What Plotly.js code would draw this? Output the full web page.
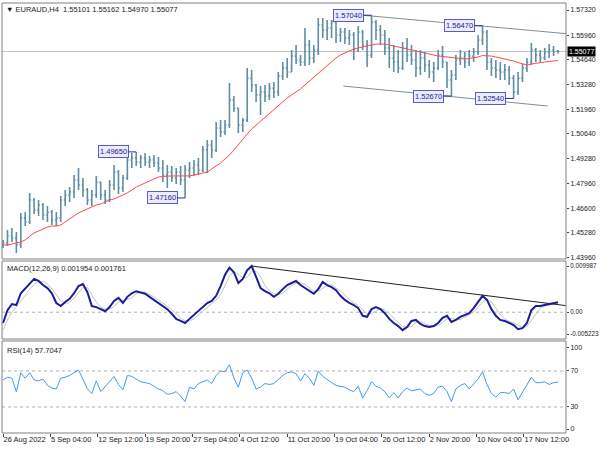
<!DOCTYPE html>
<html><head><meta charset="utf-8">
<script src="https://cdn.plot.ly/plotly-3.0.1.min.js"></script>
<style>html,body{margin:0;padding:0;background:#fff;}#chart{width:600px;height:450px;}</style>
</head><body><div id="chart"></div>
<script>
// Each plotted bar represents 3 consecutive H4 bars
const STEP = 3;

const opens = [
1.4456,1.4473,1.4510,1.4500,1.4462,1.4608,1.4586,1.4705,1.4651,1.4678,
1.4624,1.4640,1.4597,1.4608,1.4705,1.4732,1.4748,1.4813,1.4786,1.4759,
1.4705,1.4732,1.4802,1.4732,1.4705,1.4786,1.4856,1.4770,1.4824,1.4921,
1.4932,1.4910,1.4932,1.4910,1.4921,1.4905,1.4878,1.4840,1.4856,1.4824,
1.4856,1.4813,1.4867,1.4878,1.4894,1.4867,1.4975,1.5002,1.4975,1.5094,
1.5073,1.5110,1.5245,1.5202,1.5110,1.5137,1.5364,1.5327,1.5273,1.5289,
1.5267,1.5310,1.5289,1.5375,1.5418,1.5397,1.5483,1.5462,1.5451,1.5543,
1.5473,1.5516,1.5651,1.5624,1.5635,1.5667,1.5597,1.5613,1.5581,1.5597,
1.5516,1.5613,1.5543,1.5489,1.5667,1.5624,1.5597,1.5527,1.5473,1.5451,
1.5418,1.5527,1.5489,1.5462,1.5418,1.5473,1.5435,1.5397,1.5418,1.5489,
1.5451,1.5354,1.5381,1.5462,1.5473,1.5451,1.5483,1.5505,1.5570,1.5613,
1.5451,1.5418,1.5408,1.5397,1.5408,1.5364,1.5289,1.5364,1.5418,1.5451,
1.5516,1.5489,1.5473,1.5505,1.5516,1.55101];
const highs = [
1.4489,1.4543,1.4554,1.4532,1.4635,1.4640,1.4743,1.4716,1.4705,1.4689,
1.4673,1.4651,1.4640,1.4727,1.4759,1.4775,1.4840,1.4878,1.4824,1.4770,
1.4759,1.4835,1.4802,1.4759,1.4813,1.4894,1.4867,1.4840,1.4948,1.4959,
1.4965,1.4948,1.4959,1.4943,1.4948,1.4937,1.4921,1.4894,1.4889,1.4878,
1.4889,1.4894,1.4910,1.4921,1.4932,1.4997,1.5029,1.5029,1.5127,1.5137,
1.5137,1.5337,1.5267,1.5202,1.5148,1.5418,1.5408,1.5332,1.5321,1.5327,
1.5337,1.5343,1.5397,1.5451,1.5473,1.5516,1.5543,1.5489,1.5635,1.5570,
1.5543,1.5689,1.5689,1.5678,1.5678,1.5683,1.5635,1.5635,1.5624,1.5613,
1.5646,1.5624,1.5570,1.5704,1.5678,1.5651,1.5624,1.5581,1.5543,1.5516,
1.5559,1.5581,1.5543,1.5516,1.5516,1.5505,1.5462,1.5451,1.5516,1.5537,
1.5451,1.5408,1.5489,1.5516,1.5505,1.5516,1.5527,1.5597,1.5647,1.5624,
1.5473,1.5462,1.5451,1.5440,1.5429,1.5381,1.5397,1.5440,1.5473,1.5554,
1.5527,1.5516,1.5527,1.5548,1.5537,1.55162];
const lows = [
1.4446,1.4456,1.4478,1.4419,1.4446,1.4564,1.4575,1.4629,1.4619,1.4597,
1.4586,1.4570,1.4564,1.4586,1.4673,1.4694,1.4716,1.4759,1.4721,1.4678,
1.4673,1.4716,1.4705,1.4683,1.4694,1.4759,1.4737,1.4748,1.4813,1.4878,
1.4889,1.4878,1.4889,1.4878,1.4883,1.4856,1.4802,1.4770,1.4802,1.4791,
1.4786,1.4716,1.4824,1.4835,1.4840,1.4856,1.4851,1.4932,1.4964,1.5046,
1.5056,1.5094,1.5181,1.5067,1.5073,1.5127,1.5289,1.5235,1.5164,1.5235,
1.5245,1.5256,1.5267,1.5354,1.5364,1.5397,1.5440,1.5429,1.5429,1.5435,
1.5445,1.5489,1.5581,1.5570,1.5581,1.5554,1.5559,1.5548,1.5543,1.5462,
1.5505,1.5516,1.5424,1.5473,1.5570,1.5543,1.5489,1.5418,1.5397,1.5391,
1.5408,1.5451,1.5435,1.5370,1.5381,1.5397,1.5364,1.5343,1.5408,1.5418,
1.5310,1.5267,1.5354,1.5435,1.5418,1.5429,1.5451,1.5489,1.5543,1.5408,
1.5375,1.5364,1.5354,1.5354,1.5327,1.5254,1.5273,1.5343,1.5397,1.5435,
1.5451,1.5451,1.5462,1.5473,1.5483,1.54970];
const closes = [
1.4473,1.4510,1.4500,1.4462,1.4608,1.4586,1.4705,1.4651,1.4678,1.4624,
1.4640,1.4597,1.4608,1.4705,1.4732,1.4748,1.4813,1.4786,1.4759,1.4705,
1.4732,1.4802,1.4732,1.4705,1.4786,1.4856,1.4770,1.4824,1.4921,1.4932,
1.4910,1.4932,1.4910,1.4921,1.4905,1.4878,1.4840,1.4856,1.4824,1.4856,
1.4813,1.4867,1.4878,1.4894,1.4867,1.4975,1.5002,1.4975,1.5094,1.5073,
1.5110,1.5245,1.5202,1.5110,1.5137,1.5364,1.5327,1.5273,1.5289,1.5267,
1.5310,1.5289,1.5375,1.5418,1.5397,1.5483,1.5462,1.5451,1.5543,1.5473,
1.5516,1.5651,1.5624,1.5635,1.5667,1.5597,1.5613,1.5581,1.5597,1.5516,
1.5613,1.5543,1.5489,1.5667,1.5624,1.5597,1.5527,1.5473,1.5451,1.5418,
1.5527,1.5489,1.5462,1.5418,1.5473,1.5435,1.5397,1.5418,1.5489,1.5451,
1.5354,1.5381,1.5462,1.5473,1.5451,1.5483,1.5505,1.5570,1.5613,1.5451,
1.5418,1.5408,1.5397,1.5408,1.5364,1.5289,1.5364,1.5418,1.5451,1.5516,
1.5489,1.5473,1.5505,1.5516,1.5505,1.55077];
const movingAvg = [
1.4462,1.4462,1.4467,1.4473,1.4478,1.4489,1.4510,1.4527,1.4537,1.4548,
1.4559,1.4564,1.4564,1.4570,1.4586,1.4602,1.4619,1.4635,1.4646,1.4656,
1.4667,1.4678,1.4683,1.4694,1.4705,1.4710,1.4721,1.4732,1.4743,1.4759,
1.4775,1.4786,1.4797,1.4808,1.4819,1.4829,1.4832,1.4835,1.4835,1.4835,
1.4835,1.4835,1.4835,1.4840,1.4846,1.4851,1.4856,1.4873,1.4889,1.4905,
1.4927,1.4948,1.4975,1.5002,1.5029,1.5062,1.5089,1.5110,1.5132,1.5154,
1.5175,1.5191,1.5213,1.5235,1.5256,1.5273,1.5289,1.5305,1.5327,1.5348,
1.5370,1.5391,1.5413,1.5429,1.5451,1.5473,1.5489,1.5500,1.5510,1.5521,
1.5527,1.5532,1.5537,1.5543,1.5548,1.5548,1.5548,1.5543,1.5537,1.5532,
1.5527,1.5521,1.5516,1.5510,1.5505,1.5500,1.5494,1.5489,1.5483,1.5481,
1.5478,1.5473,1.5470,1.5467,1.5467,1.5470,1.5473,1.5478,1.5486,1.5486,
1.5483,1.5478,1.5473,1.5470,1.5465,1.5456,1.5448,1.5440,1.5435,1.5440,
1.5445,1.5448,1.5451,1.5454,1.5456,1.5459];
const macdMain = [
-0.0021,0.0004,0.0016,0.0014,0.0037,0.0047,0.0055,0.0065,0.0061,0.0053,
0.0047,0.0037,0.0018,0.0012,0.0020,0.0026,0.0037,0.0051,0.0055,0.0039,
0.0012,0.0010,0.0006,0.0002,0.0010,0.0022,0.0028,0.0018,0.0030,0.0037,
0.0041,0.0039,0.0036,0.0030,0.0024,0.0018,0.0012,0.0006,-0.0003,-0.0013,
-0.0017,-0.0021,-0.0013,-0.0005,0.0004,0.0010,0.0018,0.0022,0.0032,0.0051,
0.0073,0.0087,0.0078,0.0057,0.0065,0.0082,0.0090,0.0069,0.0047,0.0041,
0.0037,0.0030,0.0036,0.0045,0.0053,0.0057,0.0061,0.0053,0.0047,0.0041,
0.0036,0.0045,0.0059,0.0053,0.0049,0.0043,0.0032,0.0024,0.0018,0.0014,
0.0008,-0.0007,-0.0009,0.0006,0.0010,0.0006,-0.0002,-0.0013,-0.0021,-0.0027,
-0.0035,-0.0029,-0.0017,-0.0015,-0.0023,-0.0027,-0.0029,-0.0027,-0.0021,-0.0011,
-0.0007,-0.0019,-0.0015,-0.0009,-0.0005,-0.0002,0.0008,0.0020,0.0032,0.0024,
0.0006,-0.0007,-0.0015,-0.0017,-0.0021,-0.0025,-0.0033,-0.0031,-0.0021,0.0004,
0.0012,0.0012,0.0014,0.0016,0.0018,0.001954];
const macdSignal = [
-0.0035,-0.0015,0.0000,0.0010,0.0022,0.0033,0.0045,0.0054,0.0060,0.0060,
0.0055,0.0046,0.0034,0.0022,0.0017,0.0019,0.0028,0.0038,0.0048,0.0048,
0.0035,0.0020,0.0010,0.0006,0.0006,0.0011,0.0020,0.0023,0.0025,0.0028,
0.0036,0.0039,0.0039,0.0035,0.0030,0.0024,0.0018,0.0012,0.0005,-0.0003,
-0.0011,-0.0017,-0.0017,-0.0013,-0.0005,0.0003,0.0011,0.0017,0.0024,0.0035,
0.0052,0.0070,0.0079,0.0074,0.0067,0.0068,0.0079,0.0080,0.0069,0.0052,
0.0042,0.0036,0.0034,0.0037,0.0045,0.0052,0.0057,0.0057,0.0054,0.0047,
0.0041,0.0041,0.0047,0.0052,0.0054,0.0048,0.0041,0.0033,0.0025,0.0019,
0.0013,0.0005,-0.0003,-0.0003,0.0002,0.0007,0.0005,-0.0003,-0.0012,-0.0020,
-0.0028,-0.0030,-0.0027,-0.0020,-0.0018,-0.0022,-0.0026,-0.0028,-0.0026,-0.0020,
-0.0013,-0.0012,-0.0014,-0.0014,-0.0010,-0.0005,0.0000,0.0009,0.0020,0.0025,
0.0020,0.0008,-0.0005,-0.0013,-0.0018,-0.0021,-0.0026,-0.0030,-0.0028,-0.0016,
-0.0003,0.0008,0.0012,0.0014,0.0016,0.001761];
const rsiValues = [
60,63,62,47,68,62,68,60,59,61,
54,51,50,62,63,65,68,71,61,50,
45,59,47,52,58,64,55,49,65,64,
61,58,57,56,53,50,48,44,45,47,
42,36,52,50,56,58,60,56,65,70,
69,77,62,52,68,71,62,50,52,56,
55,56,61,65,68,69,67,59,67,62,
54,70,64,60,57,54,53,52,49,47,
53,40,48,58,53,51,47,40,46,40,
47,51,48,49,50,45,43,45,52,53,
47,36,50,54,56,50,56,61,69,55,
45,41,46,46,45,50,38,46,54,63,
57,57,58,55,57,57.7047];

const timeLabels = ['26 Aug 2022','5 Sep 04:00','12 Sep 12:00','19 Sep 20:00','27 Sep 04:00','4 Oct 12:00',
  '11 Oct 20:00','19 Oct 04:00','26 Oct 12:00','2 Nov 20:00','10 Nov 04:00','17 Nov 12:00'];
const timeLabelBars = [0,32,64,96,128,160,192,224,256,288,320,352];

const priceTicks = [1.5732,1.5596,1.5464,1.5328,1.5196,1.5064,1.4928,1.4796,1.4660,1.4528,1.4396];
const macdTickVals = [0.0090,0,-0.0043];
const macdTickText = ['0.009987','0.00','-0.005223'];
const rsiTickVals = [96.5,70,30,5.5];
const rsiTickText = ['100','70','30','0'];
const rsiLevels = [70,30];

// swing labels: plotted bar number and price
const markBars = [83,108,101,115,30,41];
const markPrices = [1.5704,1.5647,1.5267,1.5254,1.4965,1.4716];

// trend lines [H4 bar, value]
const upperChannel = [[243,1.5704],[381,1.5604]];
const lowerChannel = [[230,1.5321],[368,1.5213]];
const macdTrend = [[168,0.0090],[380,0.0013]];

const xs = closes.map((_, i) => i * STEP);
const last = closes.length - 1;

const FONT = '"Liberation Sans", Arial, sans-serif';
const BAR = '#5e8ea5';
const TXT = '#1a1a1a';

const traces = [
  {type:'ohlc', x:xs, open:opens, high:highs, low:lows, close:closes, xaxis:'x', yaxis:'y',
   increasing:{line:{color:BAR, width:1.6}}, decreasing:{line:{color:BAR, width:1.6}}, tickwidth:0.3, hoverinfo:'skip'},
  {type:'scatter', mode:'lines', x:xs, y:movingAvg, xaxis:'x', yaxis:'y', line:{color:'#ff4a4a', width:1}, hoverinfo:'skip'},
  {type:'scatter', mode:'lines', x:xs, y:macdSignal, xaxis:'x', yaxis:'y2', line:{color:'#c4c4c4', width:1}, hoverinfo:'skip'},
  {type:'scatter', mode:'lines', x:xs, y:macdMain, xaxis:'x', yaxis:'y2', line:{color:'#1c1c9e', width:2}, hoverinfo:'skip'},
  {type:'scatter', mode:'lines', x:xs, y:rsiValues, xaxis:'x', yaxis:'y3', line:{color:'#3d9bff', width:1}, hoverinfo:'skip'}
];

const dMain = [0.4047, 1], dMacd = [0.2186, 0.4], dRsi = [0, 0.214];
const yCommon = {side:'right', anchor:'x', ticks:'outside', ticklen:2, tickcolor:'#444', showgrid:false,
  zeroline:false, showline:false, fixedrange:true, tickfont:{family:FONT, size:7, color:TXT}};

const shapes = [];
[dMain, dMacd, dRsi].forEach(d => shapes.push({type:'rect', xref:'paper', yref:'paper', x0:0, x1:1, y0:d[0], y1:d[1],
  line:{color:'#808080', width:1}, fillcolor:'rgba(0,0,0,0)'}));
shapes.push({type:'line', xref:'paper', yref:'y', x0:0, x1:1, y0:closes[last], y1:closes[last], layer:'below', line:{color:'#c3c3c3', width:1}});
shapes.push({type:'line', xref:'paper', yref:'y2', x0:0, x1:1, y0:0, y1:0, layer:'below', line:{color:'#b0b0b0', width:1, dash:'dot'}});
rsiLevels.forEach(v => shapes.push({type:'line', xref:'paper', yref:'y3', x0:0, x1:1, y0:v, y1:v, layer:'below', line:{color:'#b0b0b0', width:1, dash:'dot'}}));
[upperChannel, lowerChannel].forEach(t => shapes.push({type:'line', xref:'x', yref:'y', x0:t[0][0], y0:t[0][1], x1:t[1][0], y1:t[1][1], line:{color:'#7d9095', width:1}}));
shapes.push({type:'line', xref:'x', yref:'y2', x0:macdTrend[0][0], y0:macdTrend[0][1], x1:macdTrend[1][0], y1:macdTrend[1][1], line:{color:'#202020', width:1}});

const f5 = v => v.toFixed(5);
const annotations = markBars.map((k, i) => ({
  x:k*STEP, y:markPrices[i], xref:'x', yref:'y', text:f5(markPrices[i]), showarrow:true, arrowhead:0, arrowwidth:1,
  arrowcolor:'#2b2b8f', ax:-23, ay:0, standoff:0, font:{family:FONT, size:7.5, color:'#23238f'},
  bgcolor:'#ececff', bordercolor:'#5a5ac8', borderwidth:1, borderpad:1
}));
annotations.push({xref:'paper', yref:'paper', x:0.004, y:0.984, xanchor:'left', yanchor:'middle', showarrow:false,
  text:'\u25BC EURAUD,H4\u00a0\u00a0' + [opens[last], highs[last], lows[last], closes[last]].map(f5).join(' '),
  font:{family:FONT, size:7.5, color:TXT}});
annotations.push({xref:'paper', yref:'paper', x:0.006, y:0.3835, xanchor:'left', yanchor:'middle', showarrow:false,
  text:'MACD(12,26,9) ' + macdMain[last].toFixed(6) + ' ' + macdSignal[last].toFixed(6), font:{family:FONT, size:7.5, color:TXT}});
annotations.push({xref:'paper', yref:'paper', x:0.006, y:0.193, xanchor:'left', yanchor:'middle', showarrow:false,
  text:'RSI(14) ' + rsiValues[last].toFixed(4), font:{family:FONT, size:7.5, color:TXT}});
annotations.push({xref:'paper', yref:'y', x:1, y:closes[last], xanchor:'left', yanchor:'middle', showarrow:false, xshift:1,
  text:f5(closes[last]), bgcolor:'#000', borderpad:1, font:{family:FONT, size:7, color:'#fff'}});

const layout = {
  width:600, height:450, margin:{l:2, r:34, t:3, b:17},
  paper_bgcolor:'#fff', plot_bgcolor:'#fff', showlegend:false,
  font:{family:FONT, size:7.5, color:TXT},
  xaxis:{domain:[0,1], range:[-0.7, 380.4], anchor:'y3', tickvals:timeLabelBars, ticktext:timeLabels, tickangle:0,
    ticks:'outside', ticklen:3, tickcolor:'#444', ticklabelposition:'outside right', ticklabelstandoff:-1,
    showgrid:false, zeroline:false, showline:false, fixedrange:true, rangeslider:{visible:false},
    tickfont:{family:FONT, size:7.5, color:TXT}},
  yaxis:Object.assign({}, yCommon, {domain:dMain, range:[1.4386, 1.5770], tickvals:priceTicks, ticktext:priceTicks.map(f5)}),
  yaxis2:Object.assign({}, yCommon, {domain:dMacd, range:[-0.005223, 0.009987], tickvals:macdTickVals, ticktext:macdTickText,
    tickfont:{family:FONT, size:6.3, color:TXT}}),
  yaxis3:Object.assign({}, yCommon, {domain:dRsi, range:[1.1, 103.3], tickvals:rsiTickVals, ticktext:rsiTickText}),
  shapes:shapes, annotations:annotations
};

Plotly.newPlot('chart', traces, layout, {staticPlot:true, displayModeBar:false});
</script></body></html>
